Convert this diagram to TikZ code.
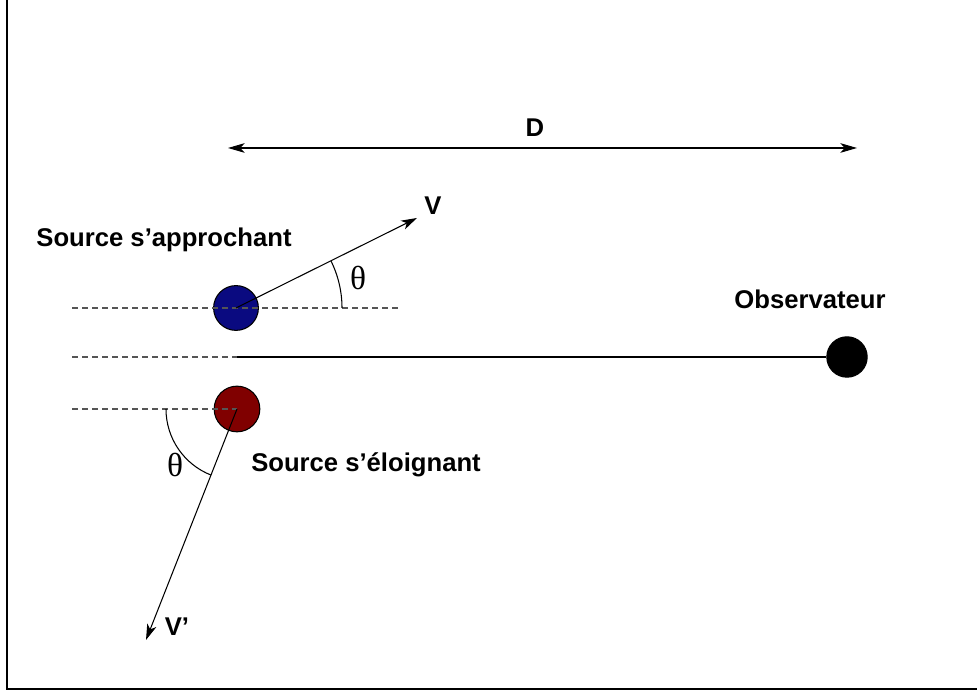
\documentclass[tikz,border=0pt]{standalone}
\usepackage{fontspec}
\setmainfont{Liberation Sans}
\newfontfamily\thetafont{Liberation Serif}
\usetikzlibrary{arrows.meta}
\definecolor{SrcBlue}{HTML}{0A0A80}
\definecolor{SrcRed}{HTML}{800000}
\definecolor{DashGray}{HTML}{555555}

\begin{document}
\begin{tikzpicture}[x=0.02cm,y=0.02cm,
    every node/.style={font=\fontsize{14.6}{17}\selectfont\bfseries},
    dot/.style={circle,draw,line width=0.6pt,inner sep=0pt},
    guide/.style={DashGray,dash pattern=on 3.4pt off 2.3pt,line width=0.6pt},
    vec/.style={line width=0.6pt,-{Stealth[length=9pt,width=5.5pt,inset=2.5pt]}},
    ang/.style={font=\thetafont\fontsize{19}{22}\selectfont}]
  \useasboundingbox (0,0) rectangle (977,692);
  \draw[line width=0.8pt] (7,692) -- (7,3) -- (977,3);

  % distance
  \coordinate (dl) at (228,544);
  \coordinate (dr) at (857,544);
  \draw[line width=0.6pt,{Stealth[length=9.5pt,width=5.5pt,inset=2.5pt]}-{Stealth[length=9.5pt,width=5.5pt,inset=2.5pt]}] (dl) -- (dr);
  \node (dlab) at (535,564) {D};

  % sources and observer
  \node[dot,fill=SrcBlue,minimum size=25.5pt] (app) at (236,384) {};
  \node[dot,fill=SrcRed,minimum size=26pt] (elo) at (237,283) {};
  \node[dot,fill=black,minimum size=23pt] (obs) at (847,335) {};

  \draw[guide] (72,384) -- (400,384);
  \draw[guide] (72,335) -- (252,335);
  \draw[guide] (72,283) -- (elo.center);
  \coordinate (mid) at (237,335);
  \draw[line width=0.6pt] (mid) -- (obs);

  % velocities
  \coordinate (vtip) at (417,474);
  \coordinate (wtip) at (146,52);
  \draw[vec] (app.center) -- (vtip);
  \draw[vec] (elo.center) -- (wtip);
  \draw[line width=0.6pt] (app.center) ++(106,0) arc[start angle=0,end angle=26.4,radius=106];
  \draw[line width=0.6pt] (elo.center) ++(-71,0) arc[start angle=180,end angle=248.5,radius=71];

  \node (vlab) at (433,486) {V};
  \node (wlab) at (177,65) {V'};
  \node[ang] (ta) at (358,414) {θ};
  \node[ang] (tb) at (175,227) {θ};
  \node (labapp) at (164,452) {Source s'approchant};
  \node (labelo) at (366,227) {Source s'éloignant};
  \node (labobs) at (810,393) {Observateur};
\end{tikzpicture}
\end{document}
